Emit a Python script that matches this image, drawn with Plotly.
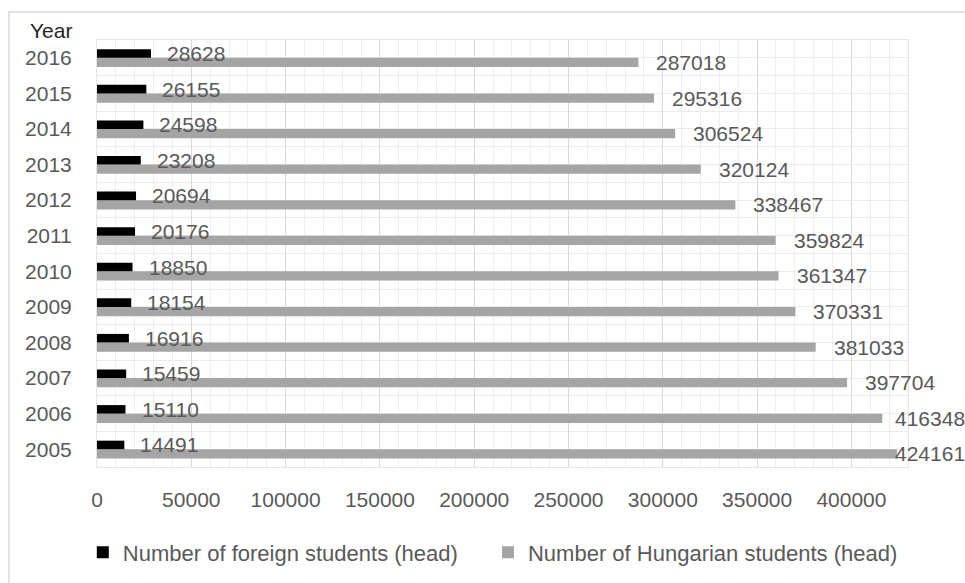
import plotly.graph_objects as go

# ---- data ----
years = ["2005", "2006", "2007", "2008", "2009", "2010",
         "2011", "2012", "2013", "2014", "2015", "2016"]
foreign_students = [14491, 15110, 15459, 16916, 18154, 18850,
                    20176, 20694, 23208, 24598, 26155, 28628]
hungarian_students = [424161, 416348, 397704, 381033, 370331, 361347,
                      359824, 338467, 320124, 306524, 295316, 287018]
x_tick_values = [0, 50000, 100000, 150000, 200000, 250000, 300000, 350000, 400000]
series_names = ["Number of foreign students (head)", "Number of Hungarian students (head)"]
axis_title_y = "Year"

# ---- styling / layout constants ----
FONT = "Liberation Sans"
TXT = "#595959"
X_MAX = 430000
W, H = 965, 583
ML, MR, MT, MB = 97, 57, 40, 116
PLOT_W = W - ML - MR
PX_PER_UNIT = PLOT_W / X_MAX
DIGIT_W = 11.7          # approx. width of one digit at 21px
RIGHT_LIMIT = PLOT_W + MR - 2   # keep labels inside the page
positions = list(range(len(years)))

fig = go.Figure()

fig.add_trace(go.Bar(
    y=positions, x=hungarian_students, orientation="h",
    name=series_names[1], legend="legend2",
    marker=dict(color="#a5a5a5", line=dict(width=0)),
    width=0.26, offset=-0.26,
    hoverinfo="x+name",
))
fig.add_trace(go.Bar(
    y=positions, x=foreign_students, orientation="h",
    name=series_names[0], legend="legend",
    marker=dict(color="#000000", line=dict(width=0)),
    width=0.24, offset=0.0,
    hoverinfo="x+name",
))

annotations = []
# Hungarian labels (drawn first, foreign labels sit on top)
for p, v in zip(positions, hungarian_students):
    txt = str(v)
    bar_end = v * PX_PER_UNIT
    shift = min(16, RIGHT_LIMIT - len(txt) * DIGIT_W - bar_end)
    annotations.append(dict(
        x=v, y=p - 0.13, xref="x", yref="y", text=txt, showarrow=False,
        xanchor="left", yanchor="middle", xshift=shift,
        font=dict(family=FONT, size=21, color=TXT),
    ))
for p, v in zip(positions, foreign_students):
    annotations.append(dict(
        x=v, y=p + 0.12, xref="x", yref="y", text=str(v), showarrow=False,
        xanchor="left", yanchor="middle", xshift=14,
        font=dict(family=FONT, size=21, color=TXT),
    ))
annotations.append(dict(
    text=axis_title_y, xref="paper", yref="paper",
    x=-0.0284, y=1.0234, xanchor="right", yanchor="middle",
    showarrow=False, font=dict(family=FONT, size=21, color="#262626"),
))

legend_common = dict(
    orientation="h", y=-0.2, yanchor="middle", xanchor="left",
    font=dict(family=FONT, size=22, color=TXT),
    itemwidth=30, bgcolor="rgba(0,0,0,0)",
)

fig.update_layout(
    width=W, height=H, autosize=False,
    margin=dict(l=ML, r=MR, t=MT, b=MB, autoexpand=False),
    paper_bgcolor="white", plot_bgcolor="white",
    barmode="overlay",
    font=dict(family=FONT, size=21, color=TXT),
    showlegend=True,
    legend=dict(x=-0.0175, **legend_common),
    legend2=dict(x=0.4821, **legend_common),
    xaxis=dict(
        range=[0, X_MAX], tickmode="array", tickvals=x_tick_values,
        ticktext=[str(v) for v in x_tick_values],
        showgrid=True, gridcolor="#d9d9d9", gridwidth=1,
        minor=dict(dtick=10000, tick0=0, showgrid=True, gridcolor="#eeeeee", gridwidth=1),
        zeroline=False, showline=True, mirror=True, linecolor="#e6e6e6", linewidth=1,
        ticks="", ticklabelstandoff=14,
        tickfont=dict(family=FONT, size=21, color=TXT),
        fixedrange=True,
    ),
    yaxis=dict(
        range=[-0.5, len(years) - 0.5], tickmode="array", tickvals=positions,
        ticktext=years,
        showgrid=True, gridcolor="#ececec", gridwidth=1,
        minor=dict(tickmode="array", tickvals=[p + 0.5 for p in positions] + [-0.5],
                   showgrid=True, gridcolor="#ececec", gridwidth=1),
        zeroline=False, showline=True, mirror=True, linecolor="#e6e6e6", linewidth=1,
        ticks="", ticklabelstandoff=20,
        tickfont=dict(family=FONT, size=21, color=TXT),
        fixedrange=True,
    ),
    annotations=annotations,
    shapes=[dict(
        type="rect", xref="paper", yref="paper",
        x0=-0.1085, x1=1.2, y0=-0.5, y1=1.0656,
        line=dict(color="#d9d9d9", width=1.5), fillcolor="rgba(0,0,0,0)", layer="below",
    )],
)

fig.write_html("out.html", config={"displayModeBar": False},
               post_script="document.body.style.margin='0';")
